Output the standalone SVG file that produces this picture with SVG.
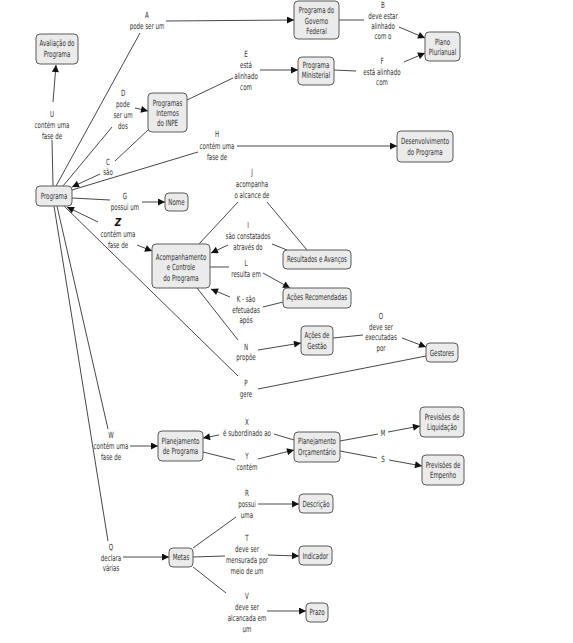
<svg xmlns="http://www.w3.org/2000/svg" width="573" height="643" viewBox="0 0 573 643">
<style>
text{font-family:"DejaVu Sans","Liberation Sans",sans-serif;font-size:8.5px;fill:#333;text-anchor:middle}
.n rect{fill:#ebebeb;stroke:#5a5a5a;stroke-width:1}
.c line{stroke:#333;stroke-width:0.9;fill:none}
.c line.a{marker-end:url(#ah)}
.z{font-weight:bold;font-style:italic;font-size:10px;fill:#111}
</style>
<defs>
<marker id="ah" viewBox="0 0 10 10" refX="10" refY="5" markerUnits="userSpaceOnUse" markerWidth="8" markerHeight="7" orient="auto">
<path d="M0,0 L10,5 L0,10 z" fill="#111"/>
</marker>
</defs>
<rect width="573" height="643" fill="#fff"/>
<g id="connectors" class="c">
<g id="lU"><line x1="53" y1="186" x2="52" y2="140"/><line class="a" x1="53" y1="102" x2="56" y2="65"/>
<text transform="matrix(.65 0 0 1 52 0)"><tspan x="0" y="117">U</tspan><tspan x="0" y="128">contém uma</tspan><tspan x="0" y="139">fase de</tspan></text></g>
<g id="lA"><line x1="56" y1="186" x2="140" y2="33"/><line class="a" x1="166" y1="21" x2="294" y2="20"/>
<text transform="matrix(.65 0 0 1 147 0)"><tspan x="0" y="18">A</tspan><tspan x="0" y="29">pode ser um</tspan></text></g>
<g id="lB"><line x1="339" y1="20" x2="364" y2="20"/><line class="a" x1="399" y1="27" x2="425" y2="38"/>
<text transform="matrix(.65 0 0 1 383 0)"><tspan x="0" y="8">B</tspan><tspan x="0" y="19">deve estar</tspan><tspan x="0" y="29">alinhado</tspan><tspan x="0" y="39">com o</tspan></text></g>
<g id="lD"><line x1="63" y1="186" x2="112" y2="127"/><line class="a" x1="135" y1="108" x2="148" y2="111"/>
<text transform="matrix(.65 0 0 1 123 0)"><tspan x="0" y="96">D</tspan><tspan x="0" y="107">pode</tspan><tspan x="0" y="118">ser um</tspan><tspan x="0" y="129">dos</tspan></text></g>
<g id="lE"><line x1="187" y1="100" x2="233" y2="78"/><line class="a" x1="260" y1="70" x2="298" y2="70"/>
<text transform="matrix(.65 0 0 1 246 0)"><tspan x="0" y="57">E</tspan><tspan x="0" y="68">está</tspan><tspan x="0" y="79">alinhado</tspan><tspan x="0" y="90">com</tspan></text></g>
<g id="lF"><line x1="334" y1="70" x2="356" y2="71"/><line class="a" x1="404" y1="62" x2="425" y2="53"/>
<text transform="matrix(.65 0 0 1 382 0)"><tspan x="0" y="64">F</tspan><tspan x="0" y="75">está alinhado</tspan><tspan x="0" y="85">com</tspan></text></g>
<g id="lC"><line x1="148" y1="130" x2="115" y2="161"/><line class="a" x1="100" y1="174" x2="72" y2="187"/>
<text transform="matrix(.65 0 0 1 108 0)"><tspan x="0" y="165">C</tspan><tspan x="0" y="175">são</tspan></text></g>
<g id="lH"><line x1="72" y1="190" x2="198" y2="152"/><line class="a" x1="237" y1="146" x2="397" y2="146"/>
<text transform="matrix(.65 0 0 1 217 0)"><tspan x="0" y="137">H</tspan><tspan x="0" y="149">contém uma</tspan><tspan x="0" y="160">fase de</tspan></text></g>
<g id="lG"><line x1="72" y1="198" x2="110" y2="200"/><line class="a" x1="142" y1="202" x2="165" y2="202"/>
<text transform="matrix(.65 0 0 1 125 0)"><tspan x="0" y="199">G</tspan><tspan x="0" y="210">possui um</tspan></text></g>
<g id="lZ"><line class="a" x1="98" y1="222" x2="67" y2="207"/><line class="a" x1="137" y1="245" x2="152" y2="251"/>
<text class="z" transform="matrix(.9 0 0 1 118 0)" x="0" y="226">Z</text>
<text transform="matrix(.65 0 0 1 118 0)"><tspan x="0" y="237">contém uma</tspan><tspan x="0" y="248">fase de</tspan></text></g>
<g id="lJ"><line x1="307" y1="250" x2="267" y2="202"/><line x1="238" y1="202" x2="199" y2="244"/>
<text transform="matrix(.65 0 0 1 252 0)"><tspan x="0" y="175">J</tspan><tspan x="0" y="187">acompanha</tspan><tspan x="0" y="198">o alcance de</tspan></text></g>
<g id="lI"><line x1="287" y1="250" x2="272" y2="244"/><line class="a" x1="228" y1="245" x2="211" y2="253"/>
<text transform="matrix(.65 0 0 1 248 0)"><tspan x="0" y="228">I</tspan><tspan x="0" y="239">são constatados</tspan><tspan x="0" y="250">através do</tspan></text></g>
<g id="lL"><line x1="210" y1="267" x2="229" y2="267"/><line class="a" x1="263" y1="273" x2="290" y2="288"/>
<text transform="matrix(.65 0 0 1 246 0)"><tspan x="0" y="266">L</tspan><tspan x="0" y="277">resulta em</tspan></text></g>
<g id="lK"><line x1="283" y1="302" x2="263" y2="307"/><line class="a" x1="230" y1="297" x2="211" y2="289"/>
<text transform="matrix(.65 0 0 1 246 0)"><tspan x="0" y="302">K - são</tspan><tspan x="0" y="313">efetuadas</tspan><tspan x="0" y="323">após</tspan></text></g>
<g id="lN"><line x1="197" y1="288" x2="238" y2="340"/><line class="a" x1="258" y1="350" x2="301" y2="343"/>
<text transform="matrix(.65 0 0 1 246 0)"><tspan x="0" y="350">N</tspan><tspan x="0" y="360">propõe</tspan></text></g>
<g id="lO"><line x1="333" y1="338" x2="363" y2="335"/><line class="a" x1="402" y1="338" x2="426" y2="347"/>
<text transform="matrix(.65 0 0 1 381 0)"><tspan x="0" y="319">O</tspan><tspan x="0" y="330">deve ser</tspan><tspan x="0" y="340">executadas</tspan><tspan x="0" y="351">por</tspan></text></g>
<g id="lP"><line x1="64" y1="206" x2="238" y2="376"/><line x1="258" y1="389" x2="426" y2="356"/>
<text transform="matrix(.65 0 0 1 246 0)"><tspan x="0" y="386">P</tspan><tspan x="0" y="397">gere</tspan></text></g>
<g id="lW"><line x1="57" y1="206" x2="108" y2="429"/><line class="a" x1="130" y1="446" x2="158" y2="446"/>
<text transform="matrix(.65 0 0 1 111 0)"><tspan x="0" y="438">W</tspan><tspan x="0" y="449">contém uma</tspan><tspan x="0" y="460">fase de</tspan></text></g>
<g id="lX"><line x1="294" y1="440" x2="274" y2="434"/><line class="a" x1="219" y1="435" x2="203" y2="438"/>
<text transform="matrix(.65 0 0 1 247 0)"><tspan x="0" y="425">X</tspan><tspan x="0" y="436">é subordinado ao</tspan></text></g>
<g id="lY"><line x1="203" y1="452" x2="235" y2="460"/><line class="a" x1="258" y1="459" x2="294" y2="450"/>
<text transform="matrix(.65 0 0 1 247 0)"><tspan x="0" y="459">Y</tspan><tspan x="0" y="470">contém</tspan></text></g>
<g id="lM"><line x1="340" y1="441" x2="378" y2="434"/><line class="a" x1="388" y1="432" x2="420" y2="426"/>
<text transform="matrix(.65 0 0 1 383 0)" x="0" y="436">M</text></g>
<g id="lS"><line x1="340" y1="451" x2="377" y2="458"/><line class="a" x1="389" y1="460" x2="422" y2="466"/>
<text transform="matrix(.65 0 0 1 383 0)" x="0" y="462">S</text></g>
<g id="lQ"><line x1="54" y1="206" x2="108" y2="541"/><line class="a" x1="123" y1="557" x2="169" y2="557"/>
<text transform="matrix(.65 0 0 1 111 0)"><tspan x="0" y="550">Q</tspan><tspan x="0" y="561">declara</tspan><tspan x="0" y="571">várias</tspan></text></g>
<g id="lR"><line x1="193" y1="548" x2="236" y2="517"/><line class="a" x1="258" y1="504" x2="299" y2="504"/>
<text transform="matrix(.65 0 0 1 247 0)"><tspan x="0" y="496">R</tspan><tspan x="0" y="507">possui</tspan><tspan x="0" y="518">uma</tspan></text></g>
<g id="lT"><line x1="193" y1="557" x2="225" y2="556"/><line class="a" x1="268" y1="555" x2="299" y2="556"/>
<text transform="matrix(.65 0 0 1 247 0)"><tspan x="0" y="541">T</tspan><tspan x="0" y="552">deve ser</tspan><tspan x="0" y="563">mensurada por</tspan><tspan x="0" y="574">meio de um</tspan></text></g>
<g id="lV"><line x1="193" y1="567" x2="226" y2="593"/><line class="a" x1="267" y1="611" x2="306" y2="611"/>
<text transform="matrix(.65 0 0 1 247 0)"><tspan x="0" y="599">V</tspan><tspan x="0" y="610">deve ser</tspan><tspan x="0" y="621">alcancada em</tspan><tspan x="0" y="632">um</tspan></text></g>
</g>
<g id="nAvaliacao" class="n"><rect x="36" y="34" width="42" height="30" rx="4"/><text transform="matrix(.65 0 0 1 57 0)"><tspan x="0" y="46.5">Avaliação do</tspan><tspan x="0" y="57.5">Programa</tspan></text></g>
<g id="nGovFederal" class="n"><rect x="294" y="1" width="45" height="38" rx="4"/><text transform="matrix(.65 0 0 1 316.5 0)"><tspan x="0" y="13">Programa do</tspan><tspan x="0" y="24">Governo</tspan><tspan x="0" y="34">Federal</tspan></text></g>
<g id="nPlano" class="n"><rect x="425" y="32" width="35" height="29" rx="4"/><text transform="matrix(.65 0 0 1 442.5 0)"><tspan x="0" y="45">Plano</tspan><tspan x="0" y="55">Plurianual</tspan></text></g>
<g id="nMinisterial" class="n"><rect x="298" y="57" width="36" height="28" rx="4"/><text transform="matrix(.65 0 0 1 316 0)"><tspan x="0" y="68">Programa</tspan><tspan x="0" y="78">Ministerial</tspan></text></g>
<g id="nInternos" class="n"><rect x="148" y="93" width="39" height="39" rx="4"/><text transform="matrix(.65 0 0 1 167.5 0)"><tspan x="0" y="106">Programas</tspan><tspan x="0" y="116">Internos</tspan><tspan x="0" y="126">do INPE</tspan></text></g>
<g id="nDesenvolvimento" class="n"><rect x="397" y="131" width="56" height="31" rx="4"/><text transform="matrix(.65 0 0 1 425 0)"><tspan x="0" y="144">Desenvolvimento</tspan><tspan x="0" y="155">do Programa</tspan></text></g>
<g id="nPrograma" class="n"><rect x="36" y="186" width="36" height="20" rx="4"/><text transform="matrix(.65 0 0 1 54 0)" x="0" y="199">Programa</text></g>
<g id="nNome" class="n"><rect x="165" y="193" width="23" height="18" rx="4"/><text transform="matrix(.65 0 0 1 176.5 0)" x="0" y="205">Nome</text></g>
<g id="nAcompanhamento" class="n"><rect x="152" y="244" width="58" height="44" rx="4"/><text transform="matrix(.65 0 0 1 181 0)"><tspan x="0" y="260">Acompanhamento</tspan><tspan x="0" y="270">e Controle</tspan><tspan x="0" y="281">do Programa</tspan></text></g>
<g id="nResultados" class="n"><rect x="283" y="250" width="68" height="19" rx="4"/><text transform="matrix(.65 0 0 1 317 0)" x="0" y="262">Resultados e Avanços</text></g>
<g id="nAcoesRec" class="n"><rect x="283" y="288" width="68" height="20" rx="4"/><text transform="matrix(.65 0 0 1 317 0)" x="0" y="300">Ações Recomendadas</text></g>
<g id="nAcoesGestao" class="n"><rect x="301" y="326" width="32" height="29" rx="4"/><text transform="matrix(.65 0 0 1 317 0)"><tspan x="0" y="338">Ações de</tspan><tspan x="0" y="349">Gestão</tspan></text></g>
<g id="nGestores" class="n"><rect x="426" y="343" width="32" height="19" rx="4"/><text transform="matrix(.65 0 0 1 442 0)" x="0" y="356">Gestores</text></g>
<g id="nPlanProg" class="n"><rect x="158" y="431" width="45" height="30" rx="4"/><text transform="matrix(.65 0 0 1 180.5 0)"><tspan x="0" y="444">Planejamento</tspan><tspan x="0" y="454">de Programa</tspan></text></g>
<g id="nPlanOrc" class="n"><rect x="294" y="432" width="46" height="30" rx="4"/><text transform="matrix(.65 0 0 1 317 0)"><tspan x="0" y="444">Planejamento</tspan><tspan x="0" y="455.5">Orçamentário</tspan></text></g>
<g id="nLiquidacao" class="n"><rect x="420" y="407" width="44" height="30" rx="4"/><text transform="matrix(.65 0 0 1 442 0)"><tspan x="0" y="420">Previsões de</tspan><tspan x="0" y="430">Liquidação</tspan></text></g>
<g id="nEmpenho" class="n"><rect x="422" y="455" width="42" height="30" rx="4"/><text transform="matrix(.65 0 0 1 443 0)"><tspan x="0" y="468">Previsões de</tspan><tspan x="0" y="478">Empenho</tspan></text></g>
<g id="nDescricao" class="n"><rect x="299" y="494" width="34" height="19" rx="4"/><text transform="matrix(.65 0 0 1 316 0)" x="0" y="507">Descrição</text></g>
<g id="nIndicador" class="n"><rect x="299" y="546" width="33" height="19" rx="4"/><text transform="matrix(.65 0 0 1 315.5 0)" x="0" y="559">Indicador</text></g>
<g id="nPrazo" class="n"><rect x="306" y="603" width="22" height="19" rx="4"/><text transform="matrix(.65 0 0 1 317 0)" x="0" y="615">Prazo</text></g>
<g id="nMetas" class="n"><rect x="169" y="548" width="24" height="19" rx="4"/><text transform="matrix(.65 0 0 1 181 0)" x="0" y="560">Metas</text></g>
</svg>
